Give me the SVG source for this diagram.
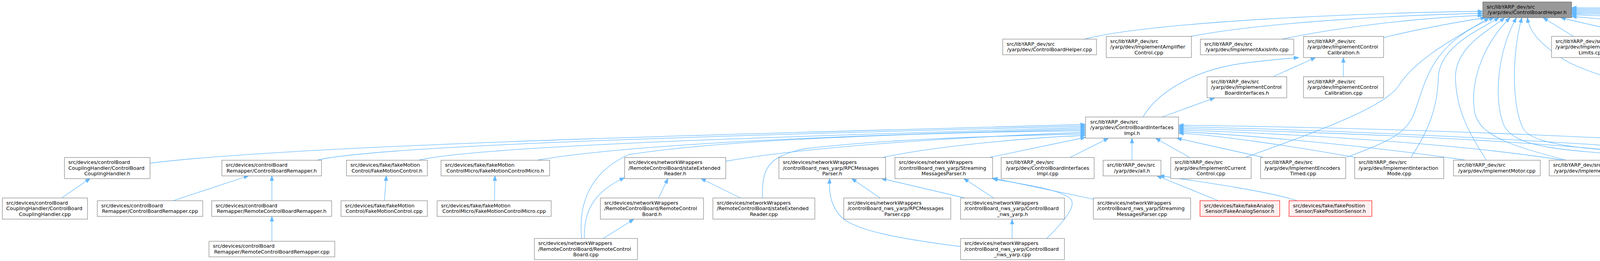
<svg xmlns="http://www.w3.org/2000/svg" width="6467" height="667" viewBox="0 0 6467 667">
<style>
.n rect{fill:#ffffff;stroke:#808080;stroke-width:1.2}
.n.top rect{fill:#999999;stroke:#666666}
.n.red rect{fill:#fff0f0;stroke:#ff0000}
.n text{font-family:"DejaVu Sans","Liberation Sans",sans-serif;font-size:12.8px;fill:#000000}
.n .c{text-anchor:middle}
.e path{fill:none;stroke:#63b8ff;stroke-width:1.3;marker-end:url(#a)}
</style>
<defs>
<marker id="a" markerWidth="15" markerHeight="11" refX="13" refY="5" orient="auto" markerUnits="userSpaceOnUse"><path d="M0,0.3 L13,5 L0,9.7 z" fill="#63b8ff" stroke="#63b8ff" stroke-width="1"/></marker>
</defs>
<rect width="6467" height="667" fill="#ffffff"/>
<g id="edges" class="e">
<path d="M2776,100 C2950,55 3500,32 3796,29"/>
<path d="M3048,93 C3250,55 3600,38 3796,34"/>
<path d="M3282,100 C3450,65 3650,45 3796,39"/>
<path d="M3542,96 C3640,72 3740,55 3803,45"/>
<path d="M4028,93 L3950,45"/>
<path d="M4195,93 C4110,70 4040,57 3995,45"/>
<path d="M4457,100 C4300,68 4130,50 4023,42"/>
<path d="M4694,93 C4500,60 4200,42 4023,38"/>
<path d="M4980,100 C4700,55 4300,38 4023,35"/>
<path d="M5259,100 C4900,50 4400,34 4023,32"/>
<path d="M5545,100 C5100,45 4500,31 4023,29"/>
<path d="M5791,93 C5300,40 4600,28 4023,26"/>
<path d="M6020,93 C5500,35 4700,25 4023,23"/>
<path d="M6257,93 C5700,30 4800,22 4023,20"/>
<path d="M3189,402 C3330,350 3540,280 3580,220 C3630,140 3760,80 3812,45"/>
<path d="M3447,402 C3560,360 3600,340 3620,290 C3650,210 3660,110 3825,45"/>
<path d="M3612,402 C3660,330 3680,270 3682,200 C3684,120 3780,80 3838,45"/>
<path d="M3805,409 C3760,340 3728,280 3726,200 C3724,120 3810,80 3852,45"/>
<path d="M4008,409 C3880,375 3790,350 3776,290 C3762,220 3790,120 3866,45"/>
<path d="M4270,402 C4000,385 3880,380 3850,320 C3825,260 3830,140 3882,45"/>
<path d="M4547,409 C4200,385 3940,390 3900,330 C3870,270 3870,140 3896,45"/>
<path d="M4874,409 C4500,290 4100,215 4000,150 C3940,110 3915,80 3910,45"/>
<path d="M2926,299 C2960,240 3050,180 3180,162 C3260,152 3300,149 3325,147"/>
<path d="M2975,299 L3110,250"/>
<path d="M3259,196 L3368,147"/>
<path d="M3439,196 L3439,147"/>
<path d="M384,417 C800,365 2200,335 2779,318"/>
<path d="M813,409 C1000,365 2200,338 2779,322"/>
<path d="M1073,409 C1250,368 2250,342 2779,326"/>
<path d="M1377,409 C1650,362 2300,342 2779,330"/>
<path d="M1489,609 C1480,520 1510,440 1610,395 C1900,350 2500,337 2779,334"/>
<path d="M1858,412 C2100,370 2500,349 2779,338"/>
<path d="M1952,506 C1950,430 1965,400 2060,380 C2300,352 2600,347 2779,342"/>
<path d="M2262,402 C2400,372 2650,351 2779,346"/>
<path d="M2535,402 L2779,351"/>
<path d="M2740,402 L2838,353"/>
<path d="M2898,409 L2898,353"/>
<path d="M3045,402 L2958,353"/>
<path d="M3233,402 L3012,353"/>
<path d="M3468,402 C3300,372 3120,346 3017,340"/>
<path d="M3750,409 C3500,372 3200,346 3017,336"/>
<path d="M4000,409 C3700,362 3250,340 3017,332"/>
<path d="M4290,402 C3900,352 3300,336 3017,328"/>
<path d="M4551,409 C4100,360 3400,332 3017,324"/>
<path d="M4840,409 C4400,352 3500,326 3017,320"/>
<path d="M158,506 L231,456"/>
<path d="M443,513 L637,449"/>
<path d="M696,513 L696,449"/>
<path d="M696,616 L696,553"/>
<path d="M984,513 L989,449"/>
<path d="M1266,513 L1267,449"/>
<path d="M1686,506 L1710,456"/>
<path d="M1896,506 L1794,456"/>
<path d="M1545,609 L1623,560"/>
<path d="M1496,609 C1494,540 1520,490 1599,454"/>
<path d="M2253,506 L2180,456"/>
<path d="M2470,506 L2256,456"/>
<path d="M2544,506 L2467,456"/>
<path d="M2799,509 L2541,455"/>
<path d="M2591,609 L2591,560"/>
<path d="M2680,609 C2730,560 2760,520 2737,505 C2700,480 2600,468 2541,457"/>
<path d="M2459,630 C2300,610 2200,590 2160,560 C2125,530 2122,490 2124,456"/>
<path d="M3119,513 L2961,449"/>
<path d="M3321,513 C3250,490 3100,468 2968,449"/>
</g>
<g id="n0" class="n top"><rect x="3796" y="5" width="227" height="40"/><text><tspan x="3806" y="21.7">src/libYARP_dev/src</tspan><tspan class="c" x="3909.5" y="36.2">/yarp/dev/ControlBoardHelper.h</tspan></text></g>
<g id="n1" class="n"><rect x="2567" y="100" width="240" height="40"/><text><tspan x="2577" y="116.7">src/libYARP_dev/src</tspan><tspan class="c" x="2687" y="131.2">/yarp/dev/ControlBoardHelper.cpp</tspan></text></g>
<g id="n2" class="n"><rect x="2832" y="93" width="218" height="54"/><text><tspan x="2842" y="109.5">src/libYARP_dev/src</tspan><tspan x="2842" y="124">/yarp/dev/ImplementAmplifier</tspan><tspan class="c" x="2941" y="138.5">Control.cpp</tspan></text></g>
<g id="n3" class="n"><rect x="3073" y="100" width="239" height="40"/><text><tspan x="3083" y="116.7">src/libYARP_dev/src</tspan><tspan class="c" x="3192.5" y="131.2">/yarp/dev/ImplementAxisInfo.cpp</tspan></text></g>
<g id="n4" class="n"><rect x="3337" y="93" width="205" height="54"/><text><tspan x="3347" y="109.5">src/libYARP_dev/src</tspan><tspan x="3347" y="124">/yarp/dev/ImplementControl</tspan><tspan class="c" x="3439.5" y="138.5">Calibration.h</tspan></text></g>
<g id="n5" class="n"><rect x="3972" y="93" width="204" height="54"/><text><tspan x="3982" y="109.5">src/libYARP_dev/src</tspan><tspan x="3982" y="124">/yarp/dev/ImplementControl</tspan><tspan class="c" x="4074" y="138.5">Limits.cpp</tspan></text></g>
<g id="n6" class="n"><rect x="4201" y="93" width="205" height="54"/><text><tspan x="4211" y="109.5">src/libYARP_dev/src</tspan><tspan x="4211" y="124">/yarp/dev/ImplementControl</tspan><tspan class="c" x="4303.5" y="138.5">Mode.cpp</tspan></text></g>
<g id="n7" class="n"><rect x="4431" y="100" width="244" height="40"/><text><tspan x="4441" y="116.7">src/libYARP_dev/src</tspan><tspan class="c" x="4553" y="131.2">/yarp/dev/ImplementEncoders.cpp</tspan></text></g>
<g id="n8" class="n"><rect x="4699" y="93" width="231" height="54"/><text><tspan x="4709" y="109.5">src/libYARP_dev/src</tspan><tspan x="4709" y="124">/yarp/dev/ImplementImpedance</tspan><tspan class="c" x="4814.5" y="138.5">Control.cpp</tspan></text></g>
<g id="n9" class="n"><rect x="4954" y="100" width="244" height="40"/><text><tspan x="4964" y="116.7">src/libYARP_dev/src</tspan><tspan class="c" x="5076" y="131.2">/yarp/dev/ImplementJointFault.cpp</tspan></text></g>
<g id="n10" class="n"><rect x="5224" y="100" width="265" height="40"/><text><tspan x="5234" y="116.7">src/libYARP_dev/src</tspan><tspan class="c" x="5356.5" y="131.2">/yarp/dev/ImplementPWMControl.cpp</tspan></text></g>
<g id="n11" class="n"><rect x="5514" y="100" width="252" height="40"/><text><tspan x="5524" y="116.7">src/libYARP_dev/src</tspan><tspan class="c" x="5640" y="131.2">/yarp/dev/ImplementPidControl.cpp</tspan></text></g>
<g id="n12" class="n"><rect x="5791" y="93" width="210" height="54"/><text><tspan x="5801" y="109.5">src/libYARP_dev/src</tspan><tspan x="5801" y="124">/yarp/dev/ImplementPosition</tspan><tspan class="c" x="5896" y="138.5">Control.cpp</tspan></text></g>
<g id="n13" class="n"><rect x="6026" y="93" width="209" height="54"/><text><tspan x="6036" y="109.5">src/libYARP_dev/src</tspan><tspan x="6036" y="124">/yarp/dev/ImplementVelocity</tspan><tspan class="c" x="6130.5" y="138.5">Control.cpp</tspan></text></g>
<g id="n14" class="n"><rect x="6261" y="93" width="201" height="54"/><text><tspan x="6271" y="109.5">src/libYARP_dev/src</tspan><tspan x="6271" y="124">/yarp/dev/ImplementVirtual</tspan><tspan class="c" x="6361.5" y="138.5">AnalogSensor.cpp</tspan></text></g>
<g id="n15" class="n"><rect x="3090" y="196" width="204" height="54"/><text><tspan x="3100" y="212.5">src/libYARP_dev/src</tspan><tspan x="3100" y="227">/yarp/dev/ImplementControl</tspan><tspan class="c" x="3192" y="241.5">BoardInterfaces.h</tspan></text></g>
<g id="n16" class="n"><rect x="3337" y="196" width="205" height="54"/><text><tspan x="3347" y="212.5">src/libYARP_dev/src</tspan><tspan x="3347" y="227">/yarp/dev/ImplementControl</tspan><tspan class="c" x="3439.5" y="241.5">Calibration.cpp</tspan></text></g>
<g id="n17" class="n"><rect x="2779" y="299" width="238" height="54"/><text><tspan x="2791" y="315.5">src/libYARP_dev/src</tspan><tspan x="2791" y="330">/yarp/dev/ControlBoardInterfaces</tspan><tspan class="c" x="2898" y="344.5">Impl.h</tspan></text></g>
<g id="n18" class="n"><rect x="165" y="402.5" width="219" height="54"/><text><tspan x="175" y="419">src/devices/controlBoard</tspan><tspan x="175" y="433.5">CouplingHandler/ControlBoard</tspan><tspan class="c" x="274.5" y="448">CouplingHandler.h</tspan></text></g>
<g id="n19" class="n"><rect x="568" y="409.5" width="255" height="40"/><text><tspan x="578" y="426.2">src/devices/controlBoard</tspan><tspan class="c" x="695.5" y="440.7">Remapper/ControlBoardRemapper.h</tspan></text></g>
<g id="n20" class="n"><rect x="887" y="409.5" width="207" height="40"/><text><tspan x="897" y="426.2">src/devices/fake/fakeMotion</tspan><tspan class="c" x="990.5" y="440.7">Control/FakeMotionControl.h</tspan></text></g>
<g id="n21" class="n"><rect x="1129" y="409.5" width="278" height="40"/><text><tspan x="1139" y="426.2">src/devices/fake/fakeMotion</tspan><tspan class="c" x="1268" y="440.7">ControlMicro/FakeMotionControlMicro.h</tspan></text></g>
<g id="n22" class="n"><rect x="1599" y="402.5" width="259" height="54"/><text><tspan x="1609" y="419">src/devices/networkWrappers</tspan><tspan x="1609" y="433.5">/RemoteControlBoard/stateExtended</tspan><tspan class="c" x="1728.5" y="448">Reader.h</tspan></text></g>
<g id="n23" class="n"><rect x="1994" y="402.5" width="273" height="54"/><text><tspan x="2004" y="419">src/devices/networkWrappers</tspan><tspan x="2004" y="433.5">/controlBoard_nws_yarp/RPCMessages</tspan><tspan class="c" x="2130.5" y="448">Parser.h</tspan></text></g>
<g id="n24" class="n"><rect x="2291" y="402.5" width="250" height="54"/><text><tspan x="2301" y="419">src/devices/networkWrappers</tspan><tspan x="2301" y="433.5">/controlBoard_nws_yarp/Streaming</tspan><tspan class="c" x="2416" y="448">MessagesParser.h</tspan></text></g>
<g id="n25" class="n"><rect x="2563" y="402.5" width="238" height="54"/><text><tspan x="2575" y="419">src/libYARP_dev/src</tspan><tspan x="2575" y="433.5">/yarp/dev/ControlBoardInterfaces</tspan><tspan class="c" x="2682" y="448">Impl.cpp</tspan></text></g>
<g id="n26" class="n"><rect x="2824" y="409.5" width="148" height="40"/><text><tspan x="2834" y="426.2">src/libYARP_dev/src</tspan><tspan class="c" x="2898" y="440.7">/yarp/dev/all.h</tspan></text></g>
<g id="n27" class="n"><rect x="2997" y="402.5" width="206" height="54"/><text><tspan x="3007" y="419">src/libYARP_dev/src</tspan><tspan x="3007" y="433.5">/yarp/dev/ImplementCurrent</tspan><tspan class="c" x="3100" y="448">Control.cpp</tspan></text></g>
<g id="n28" class="n"><rect x="3227" y="402.5" width="218" height="54"/><text><tspan x="3237" y="419">src/libYARP_dev/src</tspan><tspan x="3237" y="433.5">/yarp/dev/ImplementEncoders</tspan><tspan class="c" x="3336" y="448">Timed.cpp</tspan></text></g>
<g id="n29" class="n"><rect x="3468" y="402.5" width="228" height="54"/><text><tspan x="3478" y="419">src/libYARP_dev/src</tspan><tspan x="3478" y="433.5">/yarp/dev/ImplementInteraction</tspan><tspan class="c" x="3582" y="448">Mode.cpp</tspan></text></g>
<g id="n30" class="n"><rect x="3721" y="409.5" width="222" height="40"/><text><tspan x="3731" y="426.2">src/libYARP_dev/src</tspan><tspan class="c" x="3832" y="440.7">/yarp/dev/ImplementMotor.cpp</tspan></text></g>
<g id="n31" class="n"><rect x="3966" y="409.5" width="283" height="40"/><text><tspan x="3976" y="426.2">src/libYARP_dev/src</tspan><tspan class="c" x="4107.5" y="440.7">/yarp/dev/ImplementMotorEncoders.cpp</tspan></text></g>
<g id="n32" class="n"><rect x="4273" y="402.5" width="210" height="54"/><text><tspan x="4283" y="419">src/libYARP_dev/src</tspan><tspan x="4283" y="433.5">/yarp/dev/ImplementPosition</tspan><tspan class="c" x="4378" y="448">Direct.cpp</tspan></text></g>
<g id="n33" class="n"><rect x="4508" y="409.5" width="295" height="40"/><text><tspan x="4518" y="426.2">src/libYARP_dev/src</tspan><tspan class="c" x="4655.5" y="440.7">/yarp/dev/ImplementRemoteVariables.cpp</tspan></text></g>
<g id="n34" class="n"><rect x="4828" y="409.5" width="273" height="40"/><text><tspan x="4838" y="426.2">src/libYARP_dev/src</tspan><tspan class="c" x="4964.5" y="440.7">/yarp/dev/ImplementTorqueControl.cpp</tspan></text></g>
<g id="n35" class="n"><rect x="6" y="506" width="218" height="54"/><text><tspan x="16" y="522.5">src/devices/controlBoard</tspan><tspan x="16" y="537">CouplingHandler/ControlBoard</tspan><tspan class="c" x="115" y="551.5">CouplingHandler.cpp</tspan></text></g>
<g id="n36" class="n"><rect x="249" y="513" width="270" height="40"/><text><tspan x="259" y="529.7">src/devices/controlBoard</tspan><tspan class="c" x="384" y="544.2">Remapper/ControlBoardRemapper.cpp</tspan></text></g>
<g id="n37" class="n"><rect x="542" y="513" width="307" height="40"/><text><tspan x="552" y="529.7">src/devices/controlBoard</tspan><tspan class="c" x="695.5" y="544.2">Remapper/RemoteControlBoardRemapper.h</tspan></text></g>
<g id="n38" class="n"><rect x="873" y="513" width="221" height="40"/><text><tspan x="883" y="529.7">src/devices/fake/fakeMotion</tspan><tspan class="c" x="983.5" y="544.2">Control/FakeMotionControl.cpp</tspan></text></g>
<g id="n39" class="n"><rect x="1119" y="513" width="292" height="40"/><text><tspan x="1129" y="529.7">src/devices/fake/fakeMotion</tspan><tspan class="c" x="1265" y="544.2">ControlMicro/FakeMotionControlMicro.cpp</tspan></text></g>
<g id="n40" class="n"><rect x="1537" y="506" width="264" height="54"/><text><tspan x="1547" y="522.5">src/devices/networkWrappers</tspan><tspan x="1547" y="537">/RemoteControlBoard/RemoteControl</tspan><tspan class="c" x="1669" y="551.5">Board.h</tspan></text></g>
<g id="n41" class="n"><rect x="1825" y="506" width="261" height="54"/><text><tspan x="1835" y="522.5">src/devices/networkWrappers</tspan><tspan x="1835" y="537">/RemoteControlBoard/stateExtended</tspan><tspan class="c" x="1955.5" y="551.5">Reader.cpp</tspan></text></g>
<g id="n42" class="n"><rect x="2160" y="506" width="274" height="54"/><text><tspan x="2170" y="522.5">src/devices/networkWrappers</tspan><tspan x="2170" y="537">/controlBoard_nws_yarp/RPCMessages</tspan><tspan class="c" x="2297" y="551.5">Parser.cpp</tspan></text></g>
<g id="n43" class="n"><rect x="2459" y="506" width="266" height="54"/><text><tspan x="2469" y="522.5">src/devices/networkWrappers</tspan><tspan x="2469" y="537">/controlBoard_nws_yarp/ControlBoard</tspan><tspan class="c" x="2592" y="551.5">_nws_yarp.h</tspan></text></g>
<g id="n44" class="n"><rect x="2799" y="506" width="249" height="54"/><text><tspan x="2809" y="522.5">src/devices/networkWrappers</tspan><tspan x="2809" y="537">/controlBoard_nws_yarp/Streaming</tspan><tspan class="c" x="2923.5" y="551.5">MessagesParser.cpp</tspan></text></g>
<g id="n45" class="n red"><rect x="3072" y="513" width="204" height="40"/><text><tspan x="3082" y="529.7">src/devices/fake/fakeAnalog</tspan><tspan class="c" x="3174" y="544.2">Sensor/FakeAnalogSensor.h</tspan></text></g>
<g id="n46" class="n red"><rect x="3300" y="513" width="212" height="40"/><text><tspan x="3310" y="529.7">src/devices/fake/fakePosition</tspan><tspan class="c" x="3406" y="544.2">Sensor/FakePositionSensor.h</tspan></text></g>
<g id="n47" class="n"><rect x="535" y="616.5" width="322" height="40"/><text><tspan x="545" y="633.2">src/devices/controlBoard</tspan><tspan class="c" x="696" y="647.7">Remapper/RemoteControlBoardRemapper.cpp</tspan></text></g>
<g id="n48" class="n"><rect x="1368" y="609.5" width="264" height="54"/><text><tspan x="1378" y="626">src/devices/networkWrappers</tspan><tspan x="1378" y="640.5">/RemoteControlBoard/RemoteControl</tspan><tspan class="c" x="1500" y="655">Board.cpp</tspan></text></g>
<g id="n49" class="n"><rect x="2459" y="609.5" width="266" height="54"/><text><tspan x="2469" y="626">src/devices/networkWrappers</tspan><tspan x="2469" y="640.5">/controlBoard_nws_yarp/ControlBoard</tspan><tspan class="c" x="2592" y="655">_nws_yarp.cpp</tspan></text></g>
</svg>
